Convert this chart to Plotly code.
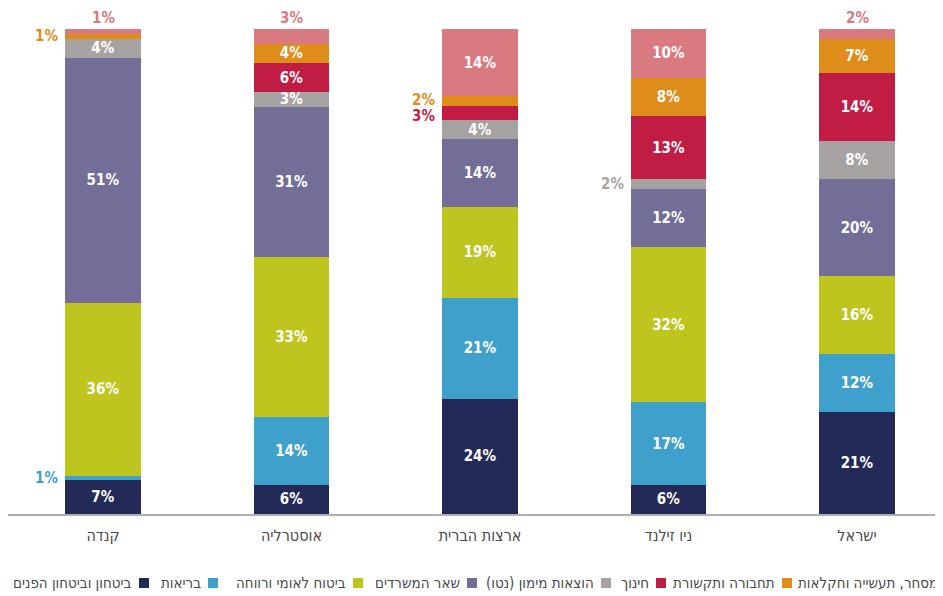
import plotly.graph_objects as go

# Data (values in percent of total expenditure)
categories = ["ישראל", "ניו זילנד", "ארצות הברית", "אוסטרליה", "קנדה"]
series_names = [
    "ביטחון וביטחון הפנים",
    "בריאות",
    "ביטוח לאומי ורווחה",
    "שאר המשרדים",
    "הוצאות מימון (נטו)",
    "חינוך",
    "תחבורה ותקשורת",
    "מסחר, תעשייה וחקלאות",
]
defense = [21, 6, 24, 6, 7]
health = [12, 17, 21, 14, 1]
welfare = [16, 32, 19, 33, 36]
other = [20, 12, 14, 31, 51]
interest = [8, 2, 4, 3, 4]
education = [14, 13, 3, 6, 0]
transport = [7, 8, 2, 4, 1]
commerce = [2, 10, 14, 3, 1]
series_values = [defense, health, welfare, other, interest, education, transport, commerce]

colors = ["#232A58", "#3FA0CC", "#BEC51F", "#736E98", "#A6A2A1", "#C11D44", "#DE8D1B", "#D87A80"]

# labels drawn outside the bar: (series index, category index, side, vertical nudge px)
outside_labels = [
    (7, 4, "top", 0), (6, 4, "left", 0), (1, 4, "left", 0),
    (7, 3, "top", 0),
    (6, 2, "left", 1), (5, 2, "left", -3),
    (4, 1, "left", 0),
    (7, 0, "top", 0),
]
outside_set = {(s, c) for s, c, _, _ in outside_labels}

FONT = "Liberation Sans Narrow, DejaVu Sans Condensed, Arial Narrow, sans-serif"

# The page body adds an 8px offset; work in page pixels and convert.
OFF = 8
FIG_W, FIG_H = 943 - OFF, 596 - OFF
plot_left_pg, plot_top_pg, plot_bottom_pg = 8, 29, 514
L = plot_left_pg - OFF
T = plot_top_pg - OFF
B = FIG_H - (plot_bottom_pg - OFF)
W = FIG_W - L
H = (plot_bottom_pg - plot_top_pg)

fig = go.Figure()
for si, (name, vals, col) in enumerate(zip(series_names, series_values, colors)):
    texts = [f"{v}%" if (v > 0 and (si, ci) not in outside_set) else "" for ci, v in enumerate(vals)]
    fig.add_trace(go.Bar(
        x=categories, y=vals, name=name, marker=dict(color=col, line=dict(width=0)),
        text=texts, textposition="inside", insidetextanchor="middle", textangle=0,
        textfont=dict(family=FONT, size=15, color="white", weight="bold"),
        width=0.4, showlegend=False,
    ))

# outside labels positioned from cumulative (normalized) data
totals = [sum(sv[ci] for sv in series_values) for ci in range(len(categories))]
for si, ci, side, nudge in outside_labels:
    v = series_values[si][ci]
    below = sum(series_values[k][ci] for k in range(si))
    if side == "top":
        fig.add_annotation(x=categories[ci], y=100, yanchor="bottom", xanchor="center",
                           yshift=0, text=f"{v}%", showarrow=False,
                           font=dict(family=FONT, size=15, color=colors[si], weight="bold"))
    else:
        mid = (below + v / 2) / totals[ci] * 100
        fig.add_annotation(x=categories[ci], y=mid, yanchor="middle", xanchor="right",
                           xshift=-43, yshift=nudge, text=f"{v}%", showarrow=False,
                           font=dict(family=FONT, size=15, color=colors[si], weight="bold"))

# RTL legend built from the series (swatch to the right of its text)
swatch_left_pg = [139, 208, 353, 467, 601, 656, 782, 945]
legend_y_pg = 583
for name, col, sx in zip(series_names, colors, swatch_left_pg):
    px0 = (sx - plot_left_pg) / W
    px1 = (sx + 10 - plot_left_pg) / W
    yc = (plot_bottom_pg - legend_y_pg) / H
    h = 5 / H
    fig.add_shape(type="rect", xref="paper", yref="paper", x0=px0, x1=px1,
                  y0=yc - h, y1=yc + h, fillcolor=col, line=dict(width=0))
    fig.add_annotation(xref="paper", yref="paper", x=(sx - 5 - plot_left_pg) / W, y=yc,
                       xanchor="right", yanchor="middle", text=name, showarrow=False,
                       font=dict(family=FONT, size=15, color="#4A4A4A"))

fig.update_layout(
    width=FIG_W, height=FIG_H,
    margin=dict(l=L, r=0, t=T, b=B, pad=0),
    barmode="stack", barnorm="percent",
    plot_bgcolor="white", paper_bgcolor="white",
    uniformtext=dict(minsize=13, mode="show"),
    font=dict(family=FONT),
)
fig.update_xaxes(
    type="category", range=[4.504, -0.456], showline=True, linecolor="#AFAFAF", linewidth=2,
    ticks="", showgrid=False, tickfont=dict(family=FONT, size=16, color="#4A4A4A"),
    ticklabelstandoff=6,
)
fig.update_yaxes(range=[0, 100], visible=False, showgrid=False)

fig.write_html("out.html")
